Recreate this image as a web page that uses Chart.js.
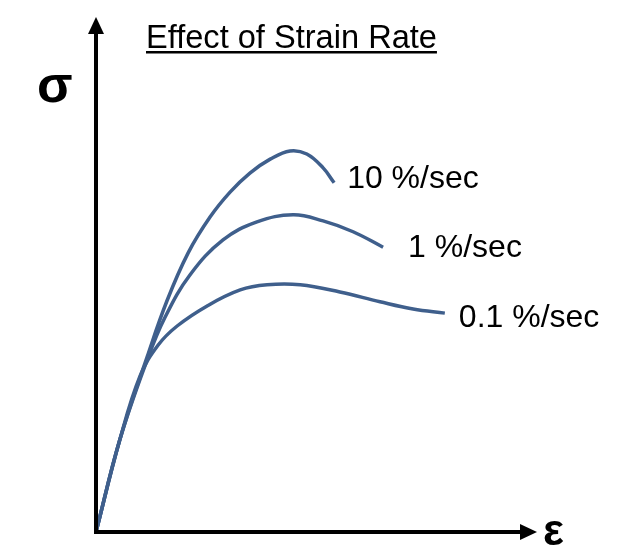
<!DOCTYPE html>
<html>
<head>
<meta charset="utf-8">
<script src="https://cdn.jsdelivr.net/npm/chart.js@4/dist/chart.umd.min.js"></script>
<style>
  html, body { margin: 0; padding: 0; background: #fff; }
  #wrap { width: 630px; height: 547px; position: relative; }
</style>
</head>
<body>
<div id="wrap"><canvas id="c" width="630" height="547"></canvas></div>
<script>
// ---- Data (strain, stress in arbitrary units 0..100) ----
const chartTitle = "Effect of Strain Rate";
const yAxisLabel = "σ";
const xAxisLabel = "ε";
const seriesLabels = ["10 %/sec", "1 %/sec", "0.1 %/sec"];

const strain10 = [0, 5.4, 11.6, 16.1, 20.9, 25.9, 30.4, 34.9, 39.5, 44.0, 47.8, 51.5, 54.0];
const stress10 = [0, 17.9, 34.0, 44.9, 54.2, 61.2, 66.0, 69.7, 72.4, 74.0, 73.4, 70.7, 67.8];

const strain1 = [0, 5.4, 11.6, 15.6, 21.3, 28.8, 36.5, 44.7, 51.5, 58.3, 65.1];
const stress1 = [0, 17.9, 33.4, 41.6, 49.9, 56.7, 60.2, 61.6, 60.4, 58.3, 55.3];

const strain01 = [0, 5.4, 10.0, 14.1, 18.4, 25.2, 32.7, 38.8, 46.3, 55.3, 64.4, 71.9, 79.1];
const stress01 = [0, 17.9, 30.3, 36.3, 40.0, 43.9, 47.0, 48.0, 48.0, 46.6, 44.7, 43.3, 42.5];

function pts(xs, ys) { return xs.map((x, i) => ({ x: x, y: ys[i] })); }

const lineColor = "#3F5F8C";
const FONT = "'Liberation Sans', Arial, sans-serif";

const decor = {
  id: 'decor',
  afterDraw(chart) {
    const ctx = chart.ctx;
    const xs = chart.scales.x, ys = chart.scales.y;
    const x0 = xs.getPixelForValue(0), y0 = ys.getPixelForValue(0);
    const xEnd = xs.getPixelForValue(xs.max), yEnd = ys.getPixelForValue(ys.max);
    ctx.save();
    ctx.strokeStyle = '#000';
    ctx.fillStyle = '#000';
    ctx.lineWidth = 4;
    ctx.lineCap = 'butt';
    ctx.beginPath();
    ctx.moveTo(x0, y0 + 2);
    ctx.lineTo(x0, yEnd + 14);
    ctx.moveTo(x0 - 2, y0);
    ctx.lineTo(xEnd - 14, y0);
    ctx.stroke();
    ctx.beginPath();
    ctx.moveTo(x0, yEnd);
    ctx.lineTo(x0 - 8, yEnd + 17);
    ctx.lineTo(x0 + 8, yEnd + 17);
    ctx.closePath();
    ctx.fill();
    ctx.beginPath();
    ctx.moveTo(xEnd, y0);
    ctx.lineTo(xEnd - 17, y0 - 8);
    ctx.lineTo(xEnd - 17, y0 + 8);
    ctx.closePath();
    ctx.fill();
    ctx.textBaseline = 'alphabetic';
    ctx.textAlign = 'left';
    ctx.font = 'bold 52px ' + FONT;
    ctx.fillText(yAxisLabel, 37, 102);
    ctx.font = 'bold 44px ' + FONT;
    ctx.fillText(xAxisLabel, 543, 545);
    ctx.font = '32.6px ' + FONT;
    ctx.fillText(chartTitle, 146, 48);
    const tw = ctx.measureText(chartTitle).width;
    ctx.fillRect(146, 51, tw, 2.5);
    ctx.font = '32px ' + FONT;
    const offs = [[13, 5], [25, 10], [14, 14]];
    chart.data.datasets.forEach((ds, i) => {
      const meta = chart.getDatasetMeta(i);
      const last = meta.data[meta.data.length - 1];
      ctx.fillText(seriesLabels[i], last.x + offs[i][0], last.y + offs[i][1]);
    });
    ctx.restore();
  }
};

new Chart(document.getElementById('c'), {
  type: 'line',
  data: {
    datasets: [
      { label: seriesLabels[0], data: pts(strain10, stress10) },
      { label: seriesLabels[1], data: pts(strain1, stress1) },
      { label: seriesLabels[2], data: pts(strain01, stress01) }
    ].map(d => Object.assign(d, {
      borderColor: lineColor,
      borderWidth: 3.5,
      pointRadius: 0,
      fill: false,
      tension: 0.4,
      borderCapStyle: 'butt'
    }))
  },
  options: {
    responsive: false,
    animation: false,
    events: [],
    layout: { padding: { left: 96, right: 93, top: 17, bottom: 15 } },
    scales: {
      x: { type: 'linear', min: 0, max: 100, display: false },
      y: { type: 'linear', min: 0, max: 100, display: false }
    },
    plugins: {
      legend: { display: false },
      title: { display: false },
      tooltip: { enabled: false }
    }
  },
  plugins: [decor]
});
</script>
</body>
</html>
